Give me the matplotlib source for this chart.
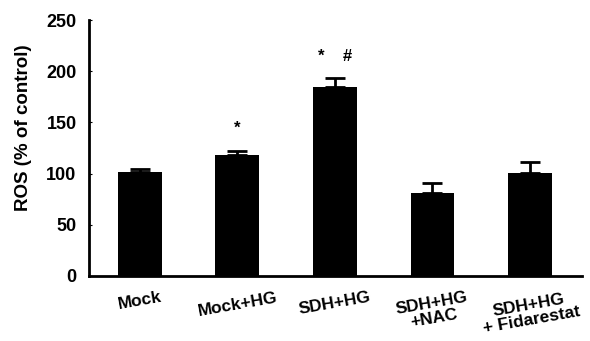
import numpy as np
import matplotlib.pyplot as plt

plt.rcParams['font.family'] = ['Liberation Sans', 'DejaVu Sans']

groups = ['Mock', 'Mock+HG', 'SDH+HG', 'SDH+HG\n+NAC', 'SDH+HG\n+ Fidarestat']
ros = [102, 118, 185, 81, 101]
err = [2, 4, 8, 10, 10]
marks = ['', '*', '*    #', '', '']
mark_y = [0, 144, 214, 0, 0]

fig = plt.figure(figsize=(5.9, 3.41), dpi=100)
ax = fig.add_axes([0.151, 0.191, 0.835, 0.75])

x = np.arange(len(groups))
ax.bar(x, ros, width=0.45, color='black')
ax.errorbar(x, ros, yerr=[np.zeros(len(err)), err], fmt='none', ecolor='black',
            elinewidth=2, capsize=7, capthick=2)

for xi, m, my in zip(x, marks, mark_y):
    if m:
        ax.text(xi, my, m, ha='center', va='center', fontsize=12, fontweight='bold')

ax.set_xlim(-0.52, 4.53)
ax.set_ylim(0, 250)
ax.set_yticks([0, 50, 100, 150, 200, 250])
ax.set_xticks(x)
ax.set_xticklabels(groups, rotation=10, ha='center', fontsize=12.5, fontweight='bold',
                   linespacing=1.0)
for lab in ax.get_yticklabels():
    lab.set_fontweight('bold')
    lab.set_fontsize(13)
ax.tick_params(axis='y', direction='in', length=2, pad=9)
ax.tick_params(axis='x', length=0, pad=10)
ax.set_ylabel('ROS (% of control)', fontsize=13.5, fontweight='bold')
ax.yaxis.set_label_coords(-0.115, 0.58)

for s in ['top', 'right']:
    ax.spines[s].set_visible(False)
for s in ['left', 'bottom']:
    ax.spines[s].set_linewidth(2)

fig.savefig('out.png', dpi=100)
